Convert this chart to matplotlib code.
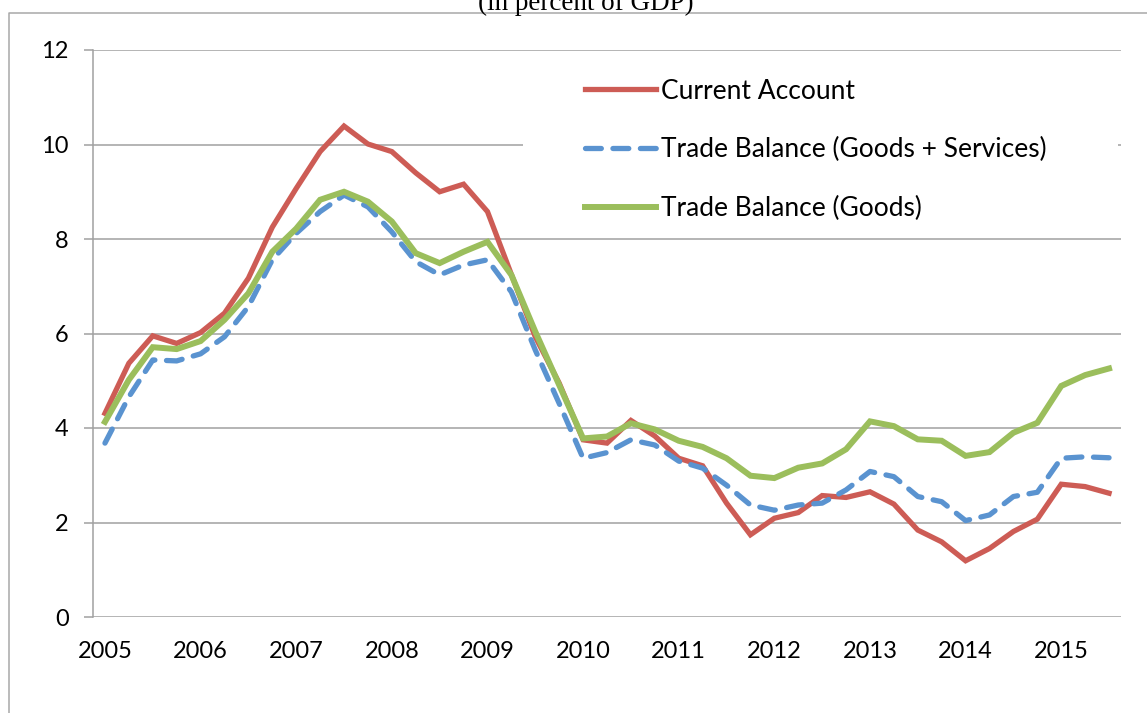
"""Current account and trade balance, quarterly, in percent of GDP."""

import matplotlib
matplotlib.use("Agg")
import matplotlib.pyplot as plt
from matplotlib.lines import Line2D
from matplotlib.patches import Rectangle
from matplotlib.transforms import blended_transform_factory

# quarterly, 2005Q1 .. 2015Q3
years = [str(y) for y in range(2005, 2016)]
current_account = [
    4.31, 5.37, 5.95, 5.79, 6.02, 6.43, 7.17, 8.25, 9.07, 9.85, 10.39,
    10.01, 9.85, 9.40, 9.00, 9.16, 8.58, 7.25, 5.93, 4.95, 3.75, 3.68,
    4.16, 3.83, 3.36, 3.20, 2.41, 1.74, 2.09, 2.21, 2.57, 2.53, 2.65,
    2.39, 1.84, 1.59, 1.19, 1.45, 1.81, 2.07, 2.81, 2.76, 2.62,
]
trade_goods_services = [
    3.68, 4.66, 5.44, 5.42, 5.57, 5.93, 6.57, 7.56, 8.12, 8.58, 8.93,
    8.68, 8.15, 7.52, 7.24, 7.45, 7.56, 6.88, 5.65, 4.52, 3.36, 3.48,
    3.75, 3.64, 3.30, 3.15, 2.79, 2.37, 2.26, 2.37, 2.41, 2.69, 3.08,
    2.97, 2.55, 2.44, 2.04, 2.16, 2.55, 2.64, 3.36, 3.39, 3.37,
]
trade_goods = [
    4.13, 5.02, 5.71, 5.67, 5.84, 6.29, 6.85, 7.73, 8.22, 8.83, 9.00,
    8.79, 8.37, 7.70, 7.49, 7.73, 7.94, 7.24, 6.04, 4.91, 3.78, 3.82,
    4.10, 3.97, 3.73, 3.60, 3.36, 2.99, 2.94, 3.16, 3.25, 3.55, 4.14,
    4.04, 3.76, 3.73, 3.41, 3.49, 3.90, 4.11, 4.89, 5.12, 5.26,
]
labels = [
    "Current Account",
    "Trade Balance (Goods + Services)",
    "Trade Balance (Goods)",
]

RED = "#CD5C55"
BLUE = "#5A93D0"
GREEN = "#9BBE5C"
GRID = "#a0a0a0"

plt.rcParams["font.family"] = ["Lato", "DejaVu Sans"]

fig = plt.figure(figsize=(11.47, 7.13), dpi=100)
ax = fig.add_axes([93 / 1147, 1 - 617 / 713, 1028 / 1147, 567 / 713])

q = list(range(len(current_account)))
ax.plot(q, current_account, color=RED, lw=3.8, solid_joinstyle="miter",
        label=labels[0], zorder=3)
ax.plot(q, trade_goods_services, color=BLUE, lw=3.8, dashes=(3.0, 2.2),
        dash_capstyle="round", label=labels[1], zorder=4)
ax.plot(q, trade_goods, color=GREEN, lw=4.3, solid_joinstyle="miter",
        label=labels[2], zorder=5)

ax.set_xlim(-0.5, len(q) - 0.5)
ax.set_ylim(0, 12)
ax.set_yticks(range(0, 13, 2))
ax.set_xticks(range(0, len(q), 4))
ax.set_xticklabels(years)

ax.set_axisbelow(True)
ax.grid(axis="y", color=GRID, lw=1.1)
for side in ("top", "right", "bottom"):
    ax.spines[side].set_visible(False)
ax.spines["left"].set_color(GRID)
ax.spines["left"].set_linewidth(1.1)
ax.tick_params(axis="y", length=6.5, width=1.1, color=GRID, pad=11,
               labelsize=17)
ax.tick_params(axis="x", length=0, pad=17, labelsize=17)

# white block behind the legend hides the gridline at 10
tr = blended_transform_factory(ax.transAxes, ax.transData)
ax.add_patch(Rectangle((0.418, 8.35), 0.579, 3.4, transform=tr,
                       facecolor="white", edgecolor="none", zorder=1))

leg = ax.legend(loc="upper left", bbox_to_anchor=(0.4655, 0.973),
                frameon=False, fontsize=19, handlelength=2.7,
                handletextpad=0.2, labelspacing=1.28, borderpad=0)

# title, cut off at the top of the picture
fig.text(586 / 1147, 1 - 10 / 713, "(in percent of GDP)",
         family="Liberation Serif", fontsize=19.5, ha="center",
         va="baseline")

# outer chart frame
fig.add_artist(Line2D([9 / 1147, 9 / 1147, 1.0], [0.0, 1 - 13 / 713, 1 - 13 / 713],
                      transform=fig.transFigure, color="#a8a8a8", lw=1.1))

fig.savefig("out.png", dpi=100)
